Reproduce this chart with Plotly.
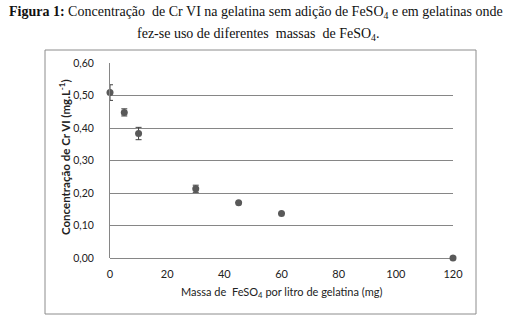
import plotly.graph_objects as go

# Massa de FeSO4 (mg/L) e concentração de Cr VI (mg/L) com desvio
massa = [0, 5, 10, 30, 45, 60, 120]
cr_vi = [0.509, 0.448, 0.383, 0.213, 0.170, 0.137, 0.0]
desvio = [0.024, 0.011, 0.019, 0.011, 0.0, 0.0, 0.0]

y_ticks = [0.0, 0.1, 0.2, 0.3, 0.4, 0.5, 0.6]
x_ticks = [0, 20, 40, 60, 80, 100, 120]

W, H = 513, 323
L, R, T, B = 110, 453, 63, 258  # plot area in pixels


def px_x(p):
    return (p - L) / (R - L)


def px_y(p):
    return (B - p) / (B - T)


grid = "#868686"
dot = "#595959"
label_font = "Lato, Liberation Sans, sans-serif"
serif = "Liberation Serif, Times New Roman, serif"
ink = "#222222"

fig = go.Figure(
    go.Scatter(
        x=massa,
        y=cr_vi,
        mode="markers",
        marker=dict(color=dot, size=7),
        error_y=dict(type="data", array=desvio, visible=True,
                     color="#404040", thickness=1, width=3),
        cliponaxis=False,
        showlegend=False,
    )
)

fig.update_layout(
    width=W,
    height=H,
    autosize=False,
    margin=dict(l=L, r=W - R, t=T, b=H - B, pad=0),
    paper_bgcolor="white",
    plot_bgcolor="white",
    separators=",.",
    font=dict(family=label_font, size=11, color=ink),
)

fig.update_xaxes(
    range=[0, 120],
    tickvals=x_ticks,
    showgrid=False,
    zeroline=False,
    showline=False,
    ticks="",
    ticklabelstandoff=8,
    tickfont=dict(family=label_font, size=11, color=ink),
)
fig.update_yaxes(
    range=[0, 0.6],
    tickvals=y_ticks,
    tickformat=".2f",
    showgrid=True,
    gridcolor=grid,
    gridwidth=1,
    zeroline=True,
    zerolinecolor=grid,
    zerolinewidth=1,
    showline=True,
    linecolor=grid,
    linewidth=1,
    ticks="",
    ticklabelstandoff=13,
    tickfont=dict(family=label_font, size=10.5, color=ink),
)

# chart frame
fig.add_shape(
    type="rect", xref="paper", yref="paper",
    x0=px_x(45), x1=px_x(476), y0=px_y(314), y1=px_y(50),
    line=dict(color="#8c8c8c", width=1), fillcolor="rgba(0,0,0,0)",
    layer="below",
)


def note(text, x, y, size, family, angle=0, color=ink):
    fig.add_annotation(
        text=text, xref="paper", yref="paper", x=px_x(x), y=px_y(y),
        xanchor="center", yanchor="middle", textangle=angle,
        showarrow=False, font=dict(family=family, size=size, color=color),
    )


# axis titles
note("<b>Concentração de Cr VI (mg.L<sup>-1</sup>)</b>", 64, 157, 11.5,
     label_font, angle=-90)
note("Massa de  FeSO<sub>4</sub> por litro de gelatina (mg)", 281, 292, 11,
     label_font)

# figure caption
note("<b>Figura 1:</b> Concentração  de Cr VI na gelatina sem adição de "
     "FeSO<sub>4</sub> e em gelatinas onde", 256, 12, 14, serif, color="#111111")
note("fez-se uso de diferentes  massas  de FeSO<sub>4</sub>.", 258, 34, 14,
     serif, color="#111111")

fig.write_html("out.html")
